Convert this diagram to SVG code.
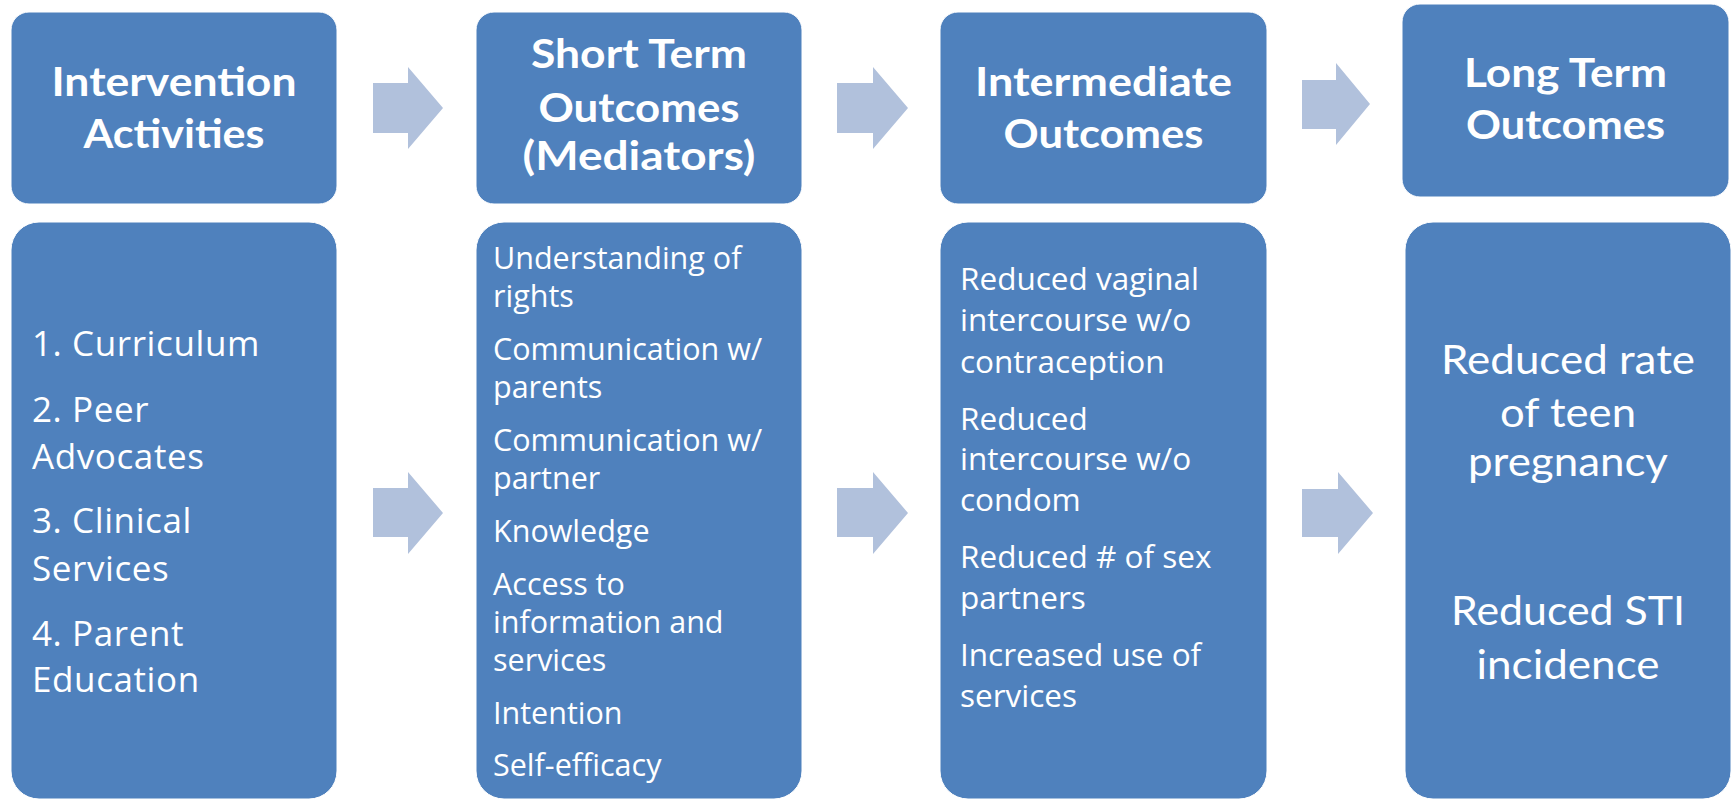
<svg xmlns="http://www.w3.org/2000/svg" width="1735" height="801" viewBox="0 0 1735 801">
<style>
.box{fill:#4F81BD;stroke:#FFFFFF;stroke-width:1}
.arrow{fill:#B1C1DC}
.head{font-family:Lato,"Open Sans","Liberation Sans",sans-serif;font-weight:bold;font-size:40px;fill:#FFFFFF;text-anchor:middle}
.body{font-family:"Open Sans","Liberation Sans",sans-serif;fill:#FFFFFF}
.b1{font-size:35px;letter-spacing:0.6px}
.b2{font-size:30.5px}
.b3{font-size:31.5px}
.b4{font-family:Lato,"Open Sans","Liberation Sans",sans-serif;font-size:40px;text-anchor:middle}
</style>
<rect x="0" y="0" width="1735" height="801" fill="#FFFFFF"/>
<g id="connectors">
<polygon class="arrow" points="373,83 408,83 408,67 443,108 408,149 408,133 373,133"/>
<polygon class="arrow" points="837,83 873,83 873,67 908,108 873,149 873,133 837,133"/>
<polygon class="arrow" points="1302,80 1336,80 1336,63 1370,104 1336,145 1336,129 1302,129"/>
<polygon class="arrow" points="373,488 408,488 408,472 443,513 408,554 408,537 373,537"/>
<polygon class="arrow" points="837,488 873,488 873,472 908,513 873,554 873,537 837,537"/>
<polygon class="arrow" points="1302,489 1338,489 1338,472 1373,513 1338,554 1338,537 1302,537"/>
</g>
<g id="head-activities">
<rect class="box" x="11" y="12" width="326" height="192" rx="18"/>
<text class="head" x="174" y="96" textLength="245" lengthAdjust="spacingAndGlyphs">Intervention</text>
<text class="head" x="174" y="148" textLength="181" lengthAdjust="spacingAndGlyphs">Activities</text>
</g>
<g id="head-short">
<rect class="box" x="476" y="12" width="326" height="192" rx="18"/>
<text class="head" x="639" y="68" textLength="216" lengthAdjust="spacingAndGlyphs">Short Term</text>
<text class="head" x="639" y="122" textLength="201" lengthAdjust="spacingAndGlyphs">Outcomes</text>
<text class="head" x="639" y="170" textLength="233" lengthAdjust="spacingAndGlyphs">(Mediators)</text>
</g>
<g id="head-intermediate">
<rect class="box" x="940" y="12" width="327" height="192" rx="18"/>
<text class="head" x="1103.5" y="96" textLength="257" lengthAdjust="spacingAndGlyphs">Intermediate</text>
<text class="head" x="1103.5" y="148" textLength="200" lengthAdjust="spacingAndGlyphs">Outcomes</text>
</g>
<g id="head-long">
<rect class="box" x="1402" y="4" width="327" height="193" rx="18"/>
<text class="head" x="1565.5" y="87" textLength="203" lengthAdjust="spacingAndGlyphs">Long Term</text>
<text class="head" x="1565.5" y="139" textLength="199" lengthAdjust="spacingAndGlyphs">Outcomes</text>
</g>
<g id="body-activities">
<rect class="box" x="11" y="222" width="326" height="577" rx="28"/>
<text class="body b1"><tspan x="32" y="356">1. Curriculum</tspan><tspan x="32" y="422">2. Peer</tspan><tspan x="32" y="469">Advocates</tspan><tspan x="32" y="533">3. Clinical</tspan><tspan x="32" y="581">Services</tspan><tspan x="32" y="646">4. Parent</tspan><tspan x="32" y="692">Education</tspan></text>
</g>
<g id="body-short">
<rect class="box" x="476" y="222" width="326" height="577" rx="28"/>
<text class="body b2"><tspan x="493" y="269">Understanding of</tspan><tspan x="493" y="307">rights</tspan><tspan x="493" y="360">Communication w/</tspan><tspan x="493" y="398">parents</tspan><tspan x="493" y="451">Communication w/</tspan><tspan x="493" y="489">partner</tspan><tspan x="493" y="542">Knowledge</tspan><tspan x="493" y="595">Access to</tspan><tspan x="493" y="633">information and</tspan><tspan x="493" y="671">services</tspan><tspan x="493" y="724">Intention</tspan><tspan x="493" y="776">Self-efficacy</tspan></text>
</g>
<g id="body-intermediate">
<rect class="box" x="940" y="222" width="327" height="577" rx="28"/>
<text class="body b3"><tspan x="960" y="290">Reduced vaginal</tspan><tspan x="960" y="331">intercourse w/o</tspan><tspan x="960" y="373">contraception</tspan><tspan x="960" y="430">Reduced</tspan><tspan x="960" y="470">intercourse w/o</tspan><tspan x="960" y="511">condom</tspan><tspan x="960" y="568">Reduced # of sex</tspan><tspan x="960" y="609">partners</tspan><tspan x="960" y="666">Increased use of</tspan><tspan x="960" y="707">services</tspan></text>
</g>
<g id="body-long">
<rect class="box" x="1405" y="222" width="326" height="577" rx="28"/>
<text class="body b4" x="1568" y="374" textLength="254" lengthAdjust="spacingAndGlyphs">Reduced rate</text>
<text class="body b4" x="1568" y="427" textLength="136" lengthAdjust="spacingAndGlyphs">of teen</text>
<text class="body b4" x="1568" y="476" textLength="200" lengthAdjust="spacingAndGlyphs">pregnancy</text>
<text class="body b4" x="1568" y="625" textLength="234" lengthAdjust="spacingAndGlyphs">Reduced STI</text>
<text class="body b4" x="1568" y="679" textLength="183" lengthAdjust="spacingAndGlyphs">incidence</text>
</g>
</svg>
